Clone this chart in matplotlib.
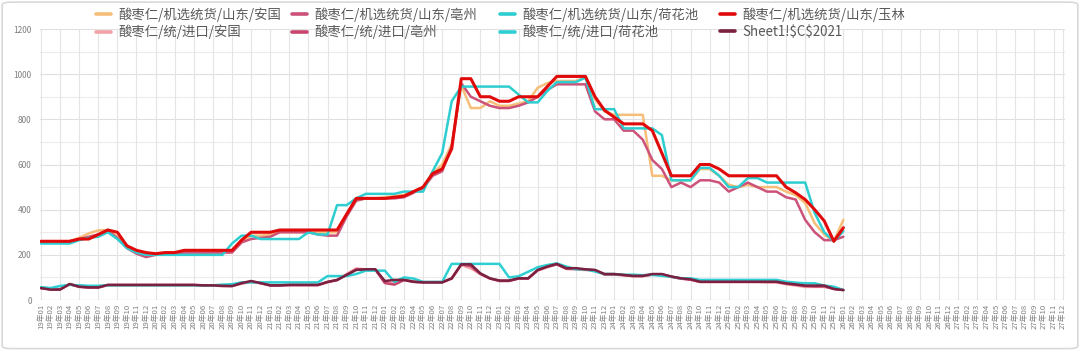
import numpy as np
import matplotlib.pyplot as plt
from matplotlib.patches import FancyBboxPatch

plt.rcParams['font.family'] = ['Noto Sans CJK SC', 'DejaVu Sans']

# month labels 19年01 .. 27年12
months = [f"{y}年{m:02d}" for y in range(19, 28) for m in range(1, 13)]

# 机选统货 / 山东
anguo = [255, 255, 255, 260, 275, 295, 308, 310, 280, 240,
         215, 205, 200, 205, 205, 210, 210, 210, 210, 210,
         215, 255, 285, 285, 290, 300, 300, 300, 300, 300,
         300, 300, 380, 440, 450, 450, 455, 460, 465, 480,
         500, 560, 600, 690, 950, 850, 850, 880, 860, 860,
         870, 880, 940, 960, 970, 970, 970, 985, 890, 835,
         820, 820, 820, 820, 550, 550, 530, 530, 530, 580,
         580, 550, 510, 500, 510, 500, 500, 500, 480, 465,
         430, 340, 290, 260, 355]
bozhou = [255, 255, 255, 260, 270, 280, 290, 305, 275, 230,
          205, 190, 200, 205, 205, 210, 210, 210, 210, 210,
          210, 255, 270, 275, 280, 300, 300, 300, 300, 290,
          285, 285, 370, 440, 450, 450, 450, 450, 455, 475,
          495, 550, 570, 680, 960, 900, 880, 860, 850, 850,
          860, 875, 900, 930, 955, 955, 955, 955, 835, 800,
          800, 750, 750, 710, 620, 580, 500, 520, 500, 530,
          530, 520, 480, 500, 520, 500, 480, 480, 455, 445,
          355, 300, 265, 265, 280]
hehuachi = [250, 250, 250, 250, 265, 275, 280, 300, 270, 230,
            210, 200, 200, 200, 200, 200, 200, 200, 200, 200,
            250, 285, 285, 270, 270, 270, 270, 270, 300, 290,
            290, 420, 420, 450, 470, 470, 470, 470, 480, 480,
            480, 570, 650, 880, 945, 945, 945, 945, 945, 945,
            910, 875, 875, 925, 965, 965, 965, 985, 845, 845,
            845, 760, 760, 760, 760, 730, 530, 530, 530, 585,
            585, 550, 500, 500, 540, 540, 520, 520, 520, 520,
            520, 385, 300, 260, 305]
yulin = [260, 260, 260, 260, 270, 270, 290, 310, 300, 240,
         220, 210, 205, 210, 210, 220, 220, 220, 220, 220,
         220, 265, 300, 300, 300, 310, 310, 310, 310, 310,
         310, 310, 380, 450, 450, 450, 450, 455, 460, 480,
         500, 560, 580, 670, 980, 980, 900, 900, 880, 880,
         900, 900, 900, 945, 990, 990, 990, 990, 900, 840,
         810, 780, 780, 780, 750, 650, 550, 550, 550, 600,
         600, 580, 550, 550, 550, 550, 550, 550, 500, 475,
         445, 400, 350, 260, 320]

# 统 / 进口
imp_anguo = [55, 48, 48, 70, 60, 57, 57, 66, 66, 66,
             66, 66, 66, 66, 66, 66, 66, 64, 64, 62,
             62, 72, 80, 75, 66, 66, 66, 66, 66, 66,
             78, 88, 115, 140, 135, 135, 80, 72, 90, 82,
             80, 80, 80, 95, 155, 140, 115, 95, 86, 86,
             95, 95, 130, 145, 158, 138, 135, 133, 130, 113,
             113, 110, 105, 105, 112, 112, 102, 94, 90, 80,
             80, 80, 80, 80, 80, 80, 78, 78, 70, 64,
             58, 58, 58, 50, 44]
imp_bozhou = [52, 47, 47, 70, 58, 55, 55, 66, 66, 66,
              66, 66, 66, 66, 66, 66, 66, 64, 64, 62,
              62, 74, 82, 74, 64, 64, 66, 66, 66, 66,
              80, 88, 112, 135, 135, 135, 75, 68, 88, 80,
              78, 78, 78, 95, 158, 150, 115, 95, 84, 84,
              95, 95, 132, 147, 158, 138, 138, 135, 132, 113,
              113, 110, 106, 106, 113, 113, 103, 95, 90, 80,
              80, 80, 80, 80, 80, 80, 80, 80, 72, 68,
              62, 60, 60, 49, 44]
imp_hehuachi = [57, 53, 62, 67, 65, 63, 63, 65, 65, 65,
                65, 65, 65, 65, 65, 65, 65, 65, 65, 68,
                70, 78, 78, 78, 78, 78, 78, 78, 78, 78,
                106, 106, 106, 115, 130, 130, 130, 80, 100, 95,
                80, 80, 80, 160, 160, 160, 160, 160, 160, 100,
                105, 125, 145, 155, 162, 148, 136, 136, 126, 115,
                115, 112, 112, 110, 111, 107, 103, 96, 96, 89,
                89, 89, 89, 89, 89, 89, 89, 89, 81, 77,
                74, 74, 64, 59, 44]
sheet_c2021 = [53, 46, 46, 71, 59, 56, 56, 67, 67, 67,
               67, 67, 67, 67, 67, 67, 67, 65, 65, 63,
               62, 75, 84, 75, 65, 65, 67, 67, 67, 67,
               80, 89, 111, 133, 136, 136, 84, 89, 89, 81,
               78, 78, 78, 96, 158, 158, 118, 96, 86, 86,
               96, 96, 133, 148, 160, 141, 141, 136, 133, 115,
               115, 111, 107, 107, 115, 115, 104, 96, 92, 81,
               81, 81, 81, 81, 81, 81, 81, 81, 74, 69,
               64, 64, 64, 49, 44]

series = [
    ("酸枣仁/机选统货/山东/安国", anguo, '#F6BE78', 1.8),
    ("酸枣仁/机选统货/山东/亳州", bozhou, '#CC5279', 1.8),
    ("酸枣仁/机选统货/山东/荷花池", hehuachi, '#2ECDD0', 1.8),
    ("酸枣仁/机选统货/山东/玉林", yulin, '#E00A0A', 2.2),
    ("酸枣仁/统/进口/安国", imp_anguo, '#F3A0A6', 1.8),
    ("酸枣仁/统/进口/亳州", imp_bozhou, '#C9456C', 1.8),
    ("酸枣仁/统/进口/荷花池", imp_hehuachi, '#2ECFD2', 1.8),
    ("Sheet1!\\$C\\$2021", sheet_c2021, '#7A2040', 1.8),
]

fig = plt.figure(figsize=(10.8, 3.5), dpi=100)
ax = fig.add_axes([40 / 1080, 50 / 350, 1025 / 1080, 271 / 350])

# light frame around the whole chart
fig.patches.append(FancyBboxPatch((0.002, 0.004), 0.996, 0.99, boxstyle="round,pad=0,rounding_size=0.008",
                                  transform=fig.transFigure, facecolor='none',
                                  edgecolor='#d9d9d9', linewidth=1.2))

handles = []
for name, vals, color, lw in series:
    x = np.arange(len(vals))
    h, = ax.plot(x, vals, color=color, linewidth=lw, label=name,
                 solid_joinstyle='round', solid_capstyle='round')
    handles.append(h)

ax.set_xlim(-0.1, len(months) - 1 + 0.2)
ax.set_ylim(0, 1200)

ax.set_yticks(np.arange(0, 1201, 200))
ax.set_xticks(np.arange(len(months)))
ax.set_xticklabels(months, rotation=90, fontsize=5.6, color='#7f7f7f')
ax.tick_params(axis='y', labelsize=6, colors='#7f7f7f', length=0, pad=6)
ax.tick_params(axis='x', length=0, pad=3)

# grid: every 100 horizontally, every second month vertically
for v in np.arange(100, 1201, 100):
    ax.axhline(v, color='#e0e0e0' if v % 200 == 0 else '#ececec', linewidth=0.8, zorder=0)
for i in range(0, len(months), 2):
    ax.axvline(i, color='#e4e4e4', linewidth=0.8, zorder=0)
ax.axvline(len(months) - 1, color='#e4e4e4', linewidth=0.8, zorder=0)
ax.axhline(0, color='#d0d0d0', linewidth=0.9, zorder=0)

for s in ax.spines.values():
    s.set_visible(False)

# legend: one two-row block per column, each at its own x
col_x = [96, 292, 500, 720]
for c, left in enumerate(col_x):
    idx = [c, c + 4]
    leg = fig.legend([handles[i] for i in idx], [series[i][0] for i in idx],
                     loc='upper left', bbox_to_anchor=(left / 1080, 1 - 7 / 350),
                     frameon=False, fontsize=9.6, handlelength=1.15, handletextpad=0.5,
                     labelspacing=0.25, borderpad=0, borderaxespad=0)
    for t in leg.get_texts():
        t.set_color('#595959')
    for lh in leg.get_lines():
        lh.set_linewidth(2.6)

fig.savefig('out.png', dpi=100, facecolor='white')
